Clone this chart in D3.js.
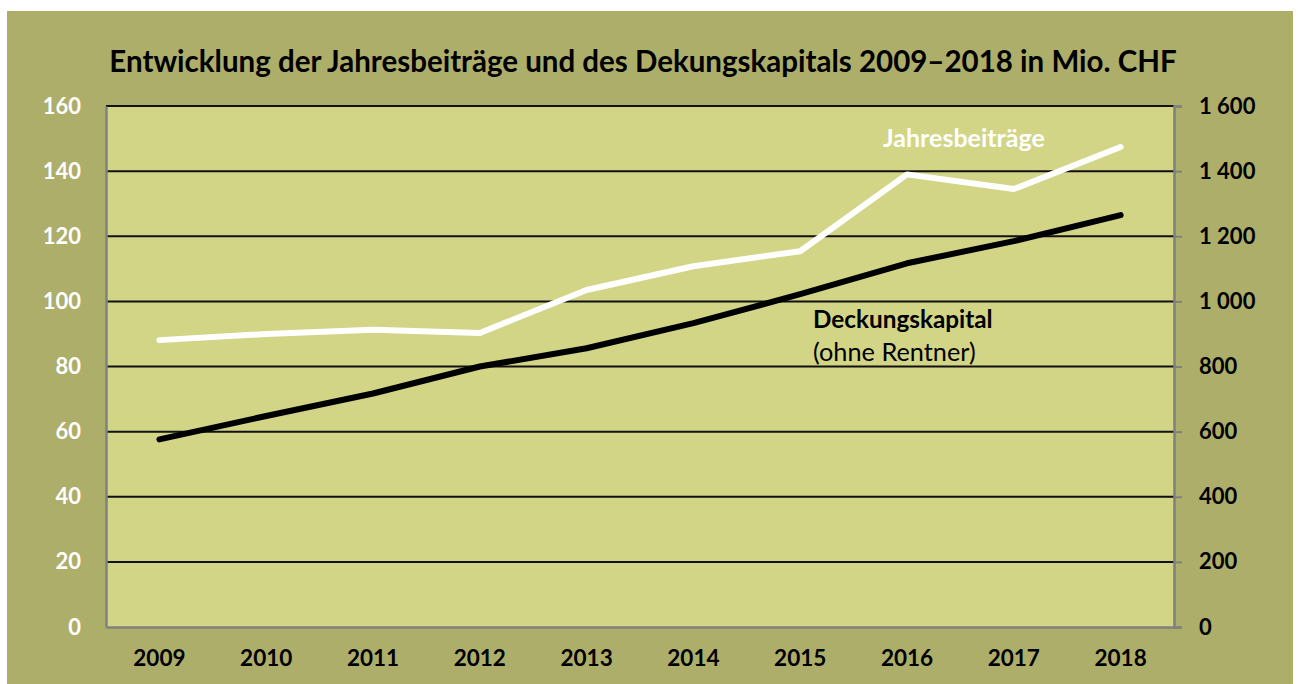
<!DOCTYPE html>
<html><head><meta charset="utf-8">
<script src="https://cdn.jsdelivr.net/npm/d3@7"></script>
<style>html,body{margin:0;padding:0;background:#fff;}svg{display:block;}</style>
</head><body>
<svg id="c" width="1298" height="684"></svg>
<script>
const years = ["2009","2010","2011","2012","2013","2014","2015","2016","2017","2018"];
const jahresbeitraege = [88.1, 90.0, 91.3, 90.3, 103.5, 110.8, 115.4, 139.0, 134.5, 147.4];
const deckungskapital = [576, 648, 717, 800, 856, 933, 1022, 1117, 1185, 1265];
const leftTicks = [0,20,40,60,80,100,120,140,160];
const rightTicks = [0,200,400,600,800,1000,1200,1400,1600];
const title = "Entwicklung der Jahresbeiträge und des Dekungskapitals 2009–2018 in Mio. CHF";

const svg = d3.select("#c");
const font = "Lato, 'Open Sans', sans-serif";
svg.append("rect").attr("x",7).attr("y",11).attr("width",1286).attr("height",673).attr("fill","#adae6a");

const L=106, R=1174, T=106, B=627;
svg.append("rect").attr("x",L).attr("y",T).attr("width",R-L).attr("height",B-T).attr("fill","#d2d486");

const x = d3.scaleBand().domain(years).range([L,R]);
const yL = d3.scaleLinear().domain([0,160]).range([B,T]);
const yR = d3.scaleLinear().domain([0,1600]).range([B,T]);
const cx = d => x(d)+x.bandwidth()/2;

// gridlines
svg.append("g").selectAll("line").data(leftTicks.filter(d=>d>0)).join("line")
  .attr("x1",L).attr("x2",R).attr("y1",d=>yL(d)).attr("y2",d=>yL(d))
  .attr("stroke","#111").attr("stroke-width",2);

// axes
const gl = svg.append("g").attr("transform",`translate(${L},0)`)
  .call(d3.axisLeft(yL).tickValues(leftTicks).tickSize(0).tickPadding(25));
gl.select(".domain").attr("stroke","#808080").attr("stroke-width",2.5);
gl.selectAll("text").attr("fill","#fff").attr("font-family",font).attr("font-weight","bold").attr("font-size",22);

const gr = svg.append("g").attr("transform",`translate(${R},0)`)
  .call(d3.axisRight(yR).tickValues(rightTicks).tickSize(8).tickPadding(17).tickFormat(d=>d>=1000? String(Math.floor(d/1000))+" "+String(d%1000).padStart(3,"0") : String(d)));
gr.select(".domain").attr("stroke","#808080").attr("stroke-width",2.5);
gr.selectAll(".tick line").attr("stroke","#808080").attr("stroke-width",2);
gr.selectAll("text").attr("fill","#000").attr("font-family",font).attr("font-weight","bold").attr("font-size",22);

const gb = svg.append("g").attr("transform",`translate(0,${B})`)
  .call(d3.axisBottom(x).tickSize(0).tickPadding(23));
gb.select(".domain").attr("stroke","#808080").attr("stroke-width",2.5);
gb.selectAll("text").attr("fill","#000").attr("font-family",font).attr("font-weight","bold").attr("font-size",22.5);

// lines
const lineL = d3.line().x((d,i)=>cx(years[i])).y(d=>yL(d));
const lineR = d3.line().x((d,i)=>cx(years[i])).y(d=>yR(d));
svg.append("path").attr("d",lineL(jahresbeitraege)).attr("fill","none").attr("stroke","#fff")
  .attr("stroke-width",6).attr("stroke-linecap","round").attr("stroke-linejoin","round");
svg.append("path").attr("d",lineR(deckungskapital)).attr("fill","none").attr("stroke","#000")
  .attr("stroke-width",6).attr("stroke-linecap","round").attr("stroke-linejoin","round");

// title
svg.append("text").attr("x",643).attr("y",72).attr("text-anchor","middle")
  .attr("font-family",font).attr("font-weight","bold").attr("font-size",29.5).attr("fill","#000").text(title);

// labels
svg.append("text").attr("x",883).attr("y",147).attr("font-family",font).attr("font-weight","bold")
  .attr("font-size",25).attr("fill","#fff").text("Jahresbeiträge");
svg.append("text").attr("x",813).attr("y",328).attr("font-family",font).attr("font-weight","bold")
  .attr("font-size",24.3).attr("fill","#000").text("Deckungskapital");
svg.append("text").attr("x",813).attr("y",361).attr("font-family",font)
  .attr("font-size",25.3).attr("fill","#000").text("(ohne Rentner)");
</script>
</body></html>
